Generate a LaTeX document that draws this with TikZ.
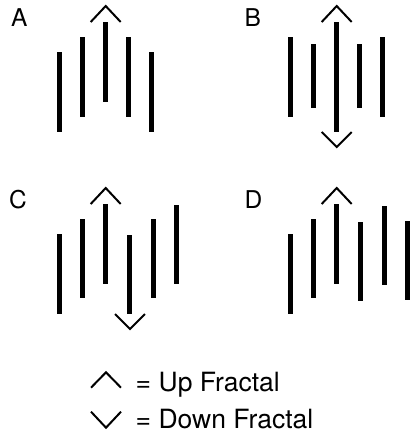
\documentclass[tikz,border=0pt]{standalone}
\usepackage{fontspec}
\setmainfont{TeX Gyre Heros}
\usetikzlibrary{positioning}

\tikzset{
    bar/.style={line width=5pt, line cap=butt},
    caret/.style={line width=2pt, line join=miter},
    panellabel/.style={anchor=base west, inner sep=0pt, font=\fontsize{24.5}{28}\selectfont},
    legendtext/.style={anchor=base west, inner sep=0pt, font=\fontsize{26.5}{30}\selectfont}
}

\begin{document}
\begin{tikzpicture}[x=1pt, y=-1pt]
    \useasboundingbox (0,0) rectangle (411,434);

    % panel A
    \node[panellabel] (labA) at (11,26) {A};
    \foreach \x/\t/\b in {59.7/52/132, 82.7/37/117, 105.7/22/102, 128.7/37/117, 151.7/52/132}
        \draw[bar] (\x,\t) -- (\x,\b);
    \coordinate (upA) at (105.7,6);
    \draw[caret] (upA) ++(-15,16) -- (upA) -- ++(15,16);

    % panel B
    \node[panellabel] (labB) at (244.5,26) {B};
    \foreach \x/\t/\b in {290.7/37/117, 313.7/44/108, 336.7/22/132, 359.7/44/108, 382.7/37/117}
        \draw[bar] (\x,\t) -- (\x,\b);
    \coordinate (upB) at (336.7,6);
    \coordinate (downB) at (336.7,147);
    \draw[caret] (upB) ++(-15,16) -- (upB) -- ++(15,16);
    \draw[caret] (downB) ++(-15,-15) -- (downB) -- ++(15,-15);

    % panel C
    \node[panellabel] (labC) at (9,208) {C};
    \foreach \x/\t/\b in {59.7/234/314, 82.7/219/298, 105.7/204/284, 129.7/235/314, 153.7/219/298, 176.7/205/284}
        \draw[bar] (\x,\t) -- (\x,\b);
    \coordinate (upC) at (105.7,188);
    \coordinate (downC) at (130,329);
    \draw[caret] (upC) ++(-15,16) -- (upC) -- ++(15,16);
    \draw[caret] (downC) ++(-15,-15) -- (downC) -- ++(15,-15);

    % panel D
    \node[panellabel] (labD) at (244.5,208) {D};
    \foreach \x/\t/\b in {290.7/234/314, 313.7/219/298, 336.7/204/284, 360.7/222/301, 384.7/206/285, 407.7/221/300}
        \draw[bar] (\x,\t) -- (\x,\b);
    \coordinate (upD) at (336.7,188);
    \draw[caret] (upD) ++(-15,16) -- (upD) -- ++(15,16);

    % legend
    \coordinate (upkey) at (106,372.3);
    \coordinate (downkey) at (106,427.7);
    \draw[caret] (upkey) ++(-15,15.4) -- (upkey) -- ++(15,15.4);
    \draw[caret] (downkey) ++(-15,-16) -- (downkey) -- ++(15,-16);
    \node[legendtext] (upfrac) at (135.5,391) {= Up Fractal};
    \node[legendtext] (downfrac) at (135.5,428) {= Down Fractal};
\end{tikzpicture}
\end{document}
